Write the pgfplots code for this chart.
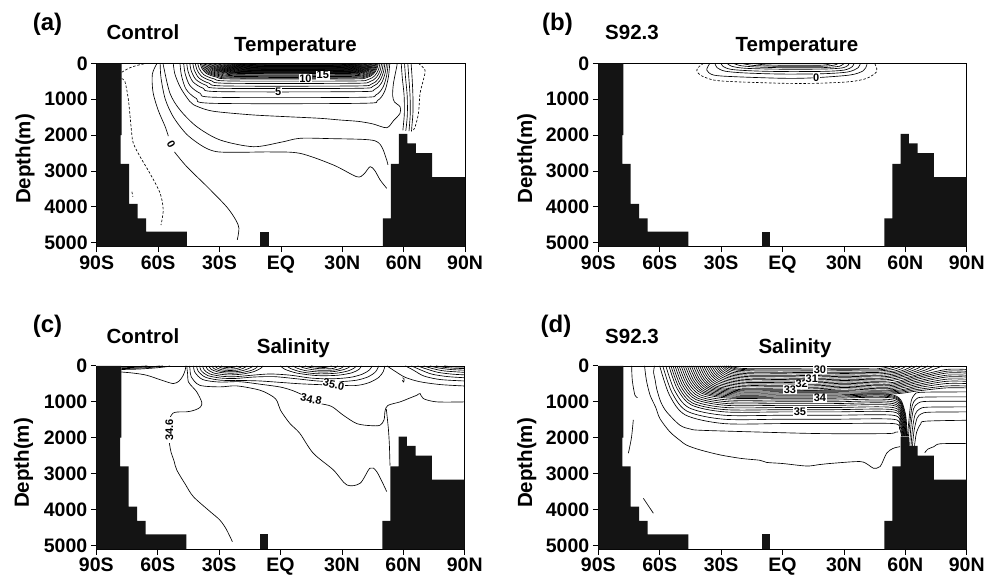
\documentclass[border=0pt]{standalone}
\usepackage{fontspec}
\setmainfont{Liberation Sans}
\usepackage{pgfplots}
\pgfplotsset{compat=1.18}
\newcommand{\tickfont}{\fontsize{19.5}{20}\selectfont\bfseries}
\newcommand{\titlefont}{\fontsize{20.5}{22}\selectfont\bfseries}
\newcommand{\letterfont}{\fontsize{24}{26}\selectfont\bfseries}
\newcommand{\labfont}{\fontsize{11}{12}\selectfont\bfseries}
\pgfplotsset{
  panel/.style={
    scale only axis, width=368.4pt, height=183.4pt, anchor=south west,
    xmin=-90, xmax=90, ymin=0, ymax=5111, y dir=reverse,
    xtick={-90,-60,-30,0,30,60,90}, xticklabels={90S,60S,30S,EQ,30N,60N,90N},
    ytick={0,1000,2000,3000,4000,5000}, yticklabels={0,1000,2000,3000,4000,5000},
    tick align=outside, tick pos=left, major tick length=5.5pt,
    every tick/.append style={black, line width=0.8pt},
    ticklabel style={font=\tickfont},
    axis line style={black, line width=0.7pt},
    /pgf/number format/assume math mode=true,
    clip=true,
  },
  cl/.style={black, line width=0.65pt, smooth, mark=none},
  cd/.style={black, line width=0.65pt, smooth, mark=none, dash pattern=on 2.5pt off 1.8pt},
  topo/.style={fill=black!92, draw=none, mark=none},
}
\tikzset{lab/.style={fill=white, inner sep=0.6pt, font=\labfont}}
\newcommand{\topo}{%
\addplot[topo] coordinates {(-90,5111) (-90,0) (-77.8,0) (-77.8,2000) (-78.3,2000) (-78.3,2800) (-74.2,2800) (-74.2,3920) (-70,3920) (-70,4320) (-65.9,4320) (-65.9,4693) (-46,4693) (-46,5111)};
\addplot[topo] coordinates {(-10.2,5111) (-10.2,4693) (-5.9,4693) (-5.9,5111)};
\addplot[topo] coordinates {(49.8,5111) (49.8,4320) (53.7,4320) (53.7,2800) (57.7,2800) (57.7,1970) (61.8,1970) (61.8,2230) (66,2230) (66,2500) (73.9,2500) (73.9,3170) (90,3170) (90,5111)};
}
\begin{document}
\begin{tikzpicture}
\path[use as bounding box] (0,0) rectangle (996pt,-577pt);
% ================= (a) Control Temperature
\begin{axis}[panel, at={(96.7pt,-246.7pt)}]
\addplot[cd] coordinates {(-77.8,250) (-74,130) (-70,55) (-65.5,0)};
\addplot[cd] coordinates {(-77.8,430) (-76.2,512) (-74.5,1023) (-72.9,1951) (-72.1,2230) (-68.8,2603) (-64,3066) (-59,3623) (-57.5,4089) (-58.6,4507)};
\addplot[cd] coordinates {(-72.8,3580) (-72.3,3720)};
\addplot[cd] coordinates {(67.2,0) (70.4,187) (69.6,465) (68,836) (67.2,1394) (65.6,1766) (64.7,1859)};
\addplot[cl] coordinates {(-60.5,0) (-62.8,300) (-62.5,800) (-60,1300) (-56.5,1770) (-55,2030)};
\addplot[cl] coordinates {(-52,2470) (-46,2880) (-36,3440) (-26.5,4000) (-22,4370) (-20.5,4600) (-21.3,4920)};
\addplot[cl] coordinates {(-59,0) (-58.6,400) (-56.5,1000) (-52.5,1500) (-46,1980) (-38,2320) (-31.4,2463) (-20,2480) (-5,2470) (9.4,2510) (25.7,2835) (37,3160) (40.5,3090) (43.6,2880) (46,3000) (48.5,3252) (51.7,3484)};
\addplot[cl] coordinates {(-57.5,0) (-57.3,95) (-54.2,836) (-49.3,1300) (-41.1,1766) (-29.7,2137) (-13.5,2324) (0,2200) (9.4,2090) (25,2100) (40,2120) (46,2160) (48.5,2260) (50,2416) (51.7,2695) (52.3,2830)};
\addplot[cl] coordinates {(-52.6,0) (-51.8,300) (-49.3,652) (-46,950) (-42.8,1150) (-36,1300) (-29.7,1360) (-13.5,1440) (2.8,1488) (19.1,1533) (28.8,1580) (38,1620) (45,1690) (51.7,1795) (55,1600) (58.2,1394) (58.2,1208) (55.5,1080) (54.6,900) (55,557) (56.6,93) (56.8,0)};
\addplot[cl] coordinates {(58.8,0) (59.3,400) (60.2,900) (60.3,1400) (59.8,1750) (59.6,1870)};
\addplot[cl] coordinates {(60.4,0) (60.9,400) (61.7,900) (61.8,1400) (61.3,1750) (61,1880)};
\addplot[cl] coordinates {(62,0) (62.5,400) (63.1,900) (63.2,1400) (62.8,1750) (62.6,1890)};
\addplot[cl] coordinates {(63.6,0) (64.1,400) (64.5,900) (64.5,1400) (64,1750) (63.8,1900)};
% band
\addplot[cl] coordinates {(-49.3,0) (-48.6,335) (-46.3,725) (-41.3,981) (-33.3,1115) (39.2,1115) (47.2,1037) (50.7,781) (52.5,390) (53.2,0)};
\addplot[cl] coordinates {(-47.5,0) (-46.8,284) (-44.5,616) (-39.5,834) (-31.5,948) (38.4,948) (46.4,882) (49.9,664) (51.7,332) (52.4,0)};
\addplot[cl] coordinates {(-46,0) (-45.3,237) (-43,514) (-38,695) (-30,790) (37.6,790) (45.6,735) (49.1,553) (50.9,277) (51.6,0)};
\addplot[cl] coordinates {(-44.5,0) (-43.8,209) (-41.5,453) (-36.5,613) (-28.5,697) (36.8,697) (44.8,648) (48.3,488) (50.1,244) (50.8,0)};
\addplot[cl] coordinates {(-43,0) (-42.3,190) (-40,411) (-35,556) (-27,632) (36,632) (44,588) (47.5,442) (49.3,221) (50,0)};
\addplot[cl] coordinates {(-41.8,0) (-41.1,167) (-38.8,362) (-33.8,490) (-25.8,557) (35.2,557) (43.2,518) (46.7,390) (48.5,195) (49.2,0)};
\addplot[cl] coordinates {(-40.6,0) (-39.9,148) (-37.6,320) (-32.6,434) (-24.6,493) (34.4,493) (42.4,458) (45.9,345) (47.7,173) (48.4,0)};
\addplot[cl] coordinates {(-39.4,0) (-38.7,131) (-36.4,284) (-31.4,385) (-23.4,437) (33.6,437) (41.6,406) (45.1,306) (46.9,153) (47.6,0)};
\addplot[cl] coordinates {(-38.8,0) (-38.1,124) (-35.8,268) (-30.8,363) (-22.8,413) (33.2,413) (41.2,384) (44.7,289) (46.5,145) (47.2,0)};
\addplot[cl] coordinates {(-38.2,0) (-37.5,117) (-35.2,254) (-30.2,343) (-22.2,390) (32.8,390) (40.8,363) (44.3,273) (46.1,137) (46.8,0)};
\addplot[cl] coordinates {(-37.6,0) (-36.9,110) (-34.6,239) (-29.6,323) (-21.6,367) (32.4,367) (40.4,341) (43.9,257) (45.7,128) (46.4,0)};
\addplot[cl] coordinates {(-37,0) (-36.3,104) (-34,224) (-29,304) (-21,345) (32,345) (40,321) (43.5,242) (45.3,121) (46,0)};
\addplot[cl] coordinates {(-36.4,0) (-35.7,96) (-33.4,208) (-28.4,282) (-20.4,320) (31.6,320) (39.6,298) (43.1,224) (44.9,112) (45.6,0)};
\addplot[cl] coordinates {(-35.8,0) (-35.1,89) (-32.8,194) (-27.8,262) (-19.8,298) (31.2,298) (39.2,277) (42.7,209) (44.5,104) (45.2,0)};
\addplot[cl] coordinates {(-35.2,0) (-34.5,85) (-32.2,185) (-27.2,250) (-19.2,284) (30.8,284) (38.8,264) (42.3,199) (44.1,99) (44.8,0)};
\addplot[cl] coordinates {(-34.6,0) (-33.9,81) (-31.6,176) (-26.6,238) (-18.6,270) (30.4,270) (38.4,251) (41.9,189) (43.7,95) (44.4,0)};
\addplot[cl] coordinates {(-34,0) (-33.3,78) (-31,169) (-26,229) (-18,260) (30,260) (38,242) (41.5,182) (43.3,91) (44,0)};
\addplot[cl] coordinates {(-33.4,0) (-32.7,75) (-30.4,163) (-25.4,220) (-17.4,250) (29.6,250) (37.6,233) (41.1,175) (42.9,88) (43.6,0)};
\addplot[cl] coordinates {(-32.8,0) (-32.1,72) (-29.8,156) (-24.8,211) (-16.8,240) (29.2,240) (37.2,223) (40.7,168) (42.5,84) (43.2,0)};
\addplot[cl] coordinates {(-32.2,0) (-31.5,69) (-29.2,150) (-24.2,202) (-16.2,230) (28.8,230) (36.8,214) (40.3,161) (42.1,81) (42.8,0)};
\addplot[cl] coordinates {(-31.6,0) (-30.9,66) (-28.6,143) (-23.6,194) (-15.6,220) (28.4,220) (36.4,205) (39.9,154) (41.7,77) (42.4,0)};
\addplot[cl] coordinates {(-31,0) (-30.3,63) (-28,137) (-23,185) (-15,210) (28,210) (36,195) (39.5,147) (41.3,74) (42,0)};
\addplot[cl] coordinates {(-30.4,0) (-29.7,60) (-27.4,130) (-22.4,176) (-14.4,200) (27.6,200) (35.6,186) (39.1,140) (40.9,70) (41.6,0)};
\addplot[cl] coordinates {(-29.8,0) (-29.1,57) (-26.8,124) (-21.8,167) (-13.8,190) (27.2,190) (35.2,177) (38.7,133) (40.5,67) (41.2,0)};
\addplot[cl] coordinates {(-29.2,0) (-28.5,54) (-26.2,117) (-21.2,158) (-13.2,180) (26.8,180) (34.8,167) (38.3,126) (40.1,63) (40.8,0)};
\addplot[cl] coordinates {(-28.6,0) (-27.9,51) (-25.6,111) (-20.6,150) (-12.6,170) (26.4,170) (34.4,158) (37.9,119) (39.7,60) (40.4,0)};
\addplot[cl] coordinates {(-28,0) (-27.3,48) (-25,104) (-20,141) (-12,160) (26,160) (34,149) (37.5,112) (39.3,56) (40,0)};
\addplot[cl] coordinates {(-27.4,0) (-26.7,45) (-24.4,98) (-19.4,132) (-11.4,150) (25.6,150) (33.6,140) (37.1,105) (38.9,53) (39.6,0)};
\addplot[cl] coordinates {(-26.8,0) (-26.1,42) (-23.8,91) (-18.8,123) (-10.8,140) (25.2,140) (33.2,130) (36.7,98) (38.5,49) (39.2,0)};
\addplot[cl] coordinates {(-26.2,0) (-25.5,39) (-23.2,85) (-18.2,114) (-10.2,130) (24.8,130) (32.8,121) (36.3,91) (38.1,46) (38.8,0)};
\addplot[cl] coordinates {(-25.6,0) (-24.9,36) (-22.6,78) (-17.6,106) (-9.6,120) (24.4,120) (32.4,112) (35.9,84) (37.7,42) (38.4,0)};
\addplot[cl] coordinates {(-25,0) (-24.3,33) (-22,72) (-17,97) (-9,110) (24,110) (32,102) (35.5,77) (37.3,39) (38,0)};
\addplot[cl] coordinates {(-24.4,0) (-23.7,30) (-21.4,65) (-16.4,88) (-8.4,100) (23.6,100) (31.6,93) (35.1,70) (36.9,35) (37.6,0)};
\addplot[cl] coordinates {(-23.8,0) (-23.1,27) (-20.8,59) (-15.8,79) (-7.8,90) (23.2,90) (31.2,84) (34.7,63) (36.5,32) (37.2,0)};
\addplot[cl] coordinates {(-23.2,0) (-22.5,24) (-20.2,52) (-15.2,70) (-7.2,80) (22.8,80) (30.8,74) (34.3,56) (36.1,28) (36.8,0)};
\addplot[cl] coordinates {(-22.6,0) (-21.9,21) (-19.6,46) (-14.6,62) (-6.6,70) (22.4,70) (30.4,65) (33.9,49) (35.7,25) (36.4,0)};
\addplot[cl] coordinates {(-22,0) (-21.3,18) (-19,39) (-14,53) (-6,60) (22,60) (30,56) (33.5,42) (35.3,21) (36,0)};
\addplot[cl] coordinates {(-21.4,0) (-20.7,15) (-18.4,33) (-13.4,44) (-5.4,50) (21.6,50) (29.6,47) (33.1,35) (34.9,18) (35.6,0)};
\addplot[cl] coordinates {(-20.8,0) (-20.1,12) (-17.8,26) (-12.8,35) (-4.8,40) (21.2,40) (29.2,37) (32.7,28) (34.5,14) (35.2,0)};
\addplot[cl] coordinates {(-20.2,0) (-19.5,9) (-17.2,20) (-12.2,26) (-4.2,30) (20.8,30) (28.8,28) (32.3,21) (34.1,11) (34.8,0)};
\topo
\node[lab, rotate=-60] at (axis cs:-53.6,2250) {0};
\node[lab] at (axis cs:-1.3,790) {5};
\node[lab] at (axis cs:12,437) {10};
\node[lab] at (axis cs:20.5,330) {15};
\end{axis}
% ================= (b) S92.3 Temperature
\begin{axis}[panel, at={(598.3pt,-246.7pt)}]
\addplot[cd] coordinates {(-38.5,0) (-40.5,80) (-41.9,187) (-40.3,326) (-33.8,465) (-24,512) (0.4,557) (16.7,557) (33,512) (41.2,418) (46,234) (45.5,60) (45,0)};
\addplot[cl] coordinates {(-35.5,0) (-37,187) (-33.8,326) (-24,372) (0.4,418) (15,405) (33,326) (39.5,206) (41.2,47) (41.3,0)};
\addplot[cl] coordinates {(-33,0) (-32,120) (-28,220) (-18,270) (0,300) (20,290) (32,240) (37,120) (38,0)};
\addplot[cl] coordinates {(-30,0) (-29,90) (-25,170) (-15,210) (0,230) (20,225) (30,190) (34,100) (35,0)};
\addplot[cl] coordinates {(-27,0) (-25,80) (-18,140) (0,165) (20,160) (29,130) (32,60) (32.5,0)};
\addplot[cl] coordinates {(-24,0) (-20,70) (-10,110) (5,125) (20,120) (28,80) (30,0)};
\addplot[cl] coordinates {(-20,0) (-14,60) (0,85) (20,80) (26,40) (27,0)};
\addplot[cl] coordinates {(-15,0) (-8,45) (5,55) (20,50) (24,0)};
\topo
\node[lab] at (axis cs:16.5,400) {0};
\end{axis}
% ================= (c) Control Salinity
\begin{axis}[panel, at={(96.3pt,-549.3pt)}]
\addplot[cl] coordinates {(-77.8,25) (-70,18) (-65,0)};
\addplot[cl] coordinates {(-77.8,50) (-70,40) (-62,20) (-59,0)};
\addplot[cl] coordinates {(-77.8,75) (-70,65) (-63,40) (-57.5,0)};
\addplot[cl] coordinates {(-77.8,100) (-70,90) (-62,60) (-56,25) (-54,0)};
\addplot[cl] coordinates {(-77.8,170) (-72,200) (-65.4,260) (-58,400) (-52.4,492) (-49.5,420) (-47.5,260) (-46.5,100) (-46.3,0)};
\addplot[cl] coordinates {(-45.8,0) (-45.4,220) (-45,446) (-42.8,600) (-40.9,725) (-38.5,1003) (-38.8,1120) (-40.2,1190) (-43,1250) (-46,1280) (-50.5,1285) (-52.6,1320) (-53.8,1420)};
\addplot[cl] coordinates {(-54.3,2150) (-53.5,2400) (-52,2650) (-50.7,2898) (-46.5,3300) (-42.6,3642) (-35,4030) (-29.7,4292) (-26.5,4550) (-23.5,4900)};
\addplot[cl] coordinates {(-44.4,0) (-44.2,100) (-43.6,306) (-39.5,539) (-29.7,585) (-21.4,557) (-10,678) (-3.5,864) (-1.5,1000) (0,1235) (4.5,1598) (9.4,1877) (16,2433) (25.8,2898) (32.4,3317) (38.9,3270) (43.7,2851) (47,2945) (51.9,3503)};
\addplot[cl] coordinates {(-42.5,0) (-41.8,180) (-38,380) (-30,450) (-20,440) (-10,510) (0,590) (6,690) (10.5,800)};
\addplot[cl] coordinates {(20,1060) (25,1130) (30.7,1375) (37.3,1608) (44,1665) (48.6,1654) (50.6,1500) (51.1,1250) (52.5,1100) (58.4,1003) (63,900) (66.6,818) (68.2,771) (69.8,911) (76.4,1003) (90,1003)};
\addplot[cl] coordinates {(51.7,1200) (52.7,1747) (53.2,2210) (53.5,2780)};
\addplot[cl] coordinates {(-41,0) (-40.2,150) (-36.5,320) (-29,400) (-20,405) (-10,420) (0,460) (10,500) (20.5,525)};
\addplot[cl] coordinates {(31.5,545) (36,550) (40,520) (44,450) (48,320) (50.2,160) (51,0)};
\addplot[cl] coordinates {(-39.5,0) (-38.8,130) (-35.5,270) (-29,340) (-22,350) (-13,310) (-3,300) (8,360) (18,420) (28,440) (37,400) (43,300) (46.5,160) (48,0)};
\addplot[cl] coordinates {(-38,0) (-37.3,110) (-34.5,225) (-28.5,290) (-22,300) (-14,260) (-5,225) (5,260) (15,340) (25,360) (34,320) (40,230) (43.5,110) (44.8,0)};
\addplot[cl] coordinates {(-36.5,0) (-35.6,100) (-32.5,200) (-26,250) (-19,230) (-13,160) (-9.5,60) (-8.5,0)};
\addplot[cl] coordinates {(-35,0) (-34,90) (-30.5,170) (-25,205) (-19,185) (-14,120) (-11.5,40) (-11,0)};
\addplot[cl] coordinates {(-33.5,0) (-32.5,75) (-29.5,140) (-25,165) (-20,150) (-16.5,95) (-14,30) (-13.5,0)};
\addplot[cl] coordinates {(-32,0) (-31,60) (-28.5,110) (-25,128) (-21,115) (-18.3,70) (-16.3,0)};
\addplot[cl] coordinates {(-30.5,0) (-29.5,45) (-27,80) (-24.5,90) (-21.5,75) (-19.5,40) (-18.7,0)};
\addplot[cl] coordinates {(-29,0) (-27.5,35) (-25,50) (-22.5,35) (-21.2,0)};
\addplot[cl] coordinates {(0,0) (2,90) (8,200) (18,270) (28,260) (35,190) (38.5,90) (39.5,0)};
\addplot[cl] coordinates {(3,0) (5,75) (10,165) (18,220) (27,205) (33,140) (36,60) (37,0)};
\addplot[cl] coordinates {(6,0) (8,60) (12,130) (19,170) (26,158) (31,100) (33.5,40) (34,0)};
\addplot[cl] coordinates {(9,0) (11,48) (15,100) (20,125) (26,115) (29.5,68) (31,0)};
\addplot[cl] coordinates {(12,0) (14,38) (18,72) (22,82) (26,68) (28,0)};
\addplot[cl] coordinates {(15,0) (18,33) (22,43) (25,0)};
\addplot[cl] coordinates {(52,0) (56,150) (61,320) (68,440) (78,520) (90,560)};
\addplot[cl] coordinates {(61,0) (65,120) (70,280) (78,380) (90,420)};
\addplot[cl] coordinates {(64,0) (68,100) (74,230) (82,300) (90,330)};
\addplot[cl] coordinates {(67,0) (71,80) (77,180) (84,230) (90,250)};
\addplot[cl] coordinates {(70,0) (74,70) (80,140) (90,180)};
\addplot[cl] coordinates {(73,0) (77,55) (83,100) (90,120)};
\addplot[cl] coordinates {(76,0) (80,40) (85,65) (90,75)};
\addplot[cl] coordinates {(80,0) (84,25) (90,35)};
\addplot[cl] coordinates {(59.6,330) (60.3,350) (60.4,420) (60,450) (59.6,400)};
\topo
\node[lab, rotate=90] at (axis cs:-54.3,1780) {34.6};
\node[lab, rotate=-12, inner sep=0.3pt] at (axis cs:15,930) {34.8};
\node[lab, rotate=-12, inner sep=0.3pt] at (axis cs:26,515) {35.0};
\end{axis}
% ================= (d) S92.3 Salinity
\begin{axis}[panel, at={(598.3pt,-549.3pt)}]
\addplot[cl] coordinates {(-73.7,0) (-73.4,400) (-72.1,817) (-70.8,880)};
\addplot[cl] coordinates {(-72.9,1505) (-73.8,2000) (-75.3,2433)};
\addplot[cl] coordinates {(-68,3688) (-63.1,4106)};
\addplot[cl] coordinates {(-67.4,0) (-66.5,400) (-64.7,817) (-62,1150) (-59.9,1468) (-55,1839) (-50,2080) (-46.8,2210) (-40.3,2340) (-30.5,2480) (-20,2580) (-11,2630) (-7.7,2690) (0,2720) (11.8,2790) (18,2750) (24.8,2712) (37.9,2666) (42,2760) (44.4,2851) (47.7,2805) (50.9,2433) (54,2300) (57.5,2250)};
\addplot[cl] coordinates {(-62.5,0) (-63,170) (-62.2,400) (-61.5,632) (-59.5,1000) (-56.6,1282) (-50.1,1653) (-45,1760) (-40.3,1793) (-14.3,1839) (18.3,1886) (50.9,1886) (55,1850) (56.5,1840)};
\addplot[cl] coordinates {(69.5,2420) (71,2320) (74,2250) (77,2170) (90,2165)};
% deep band lines diving into the plume
\addplot[cl] coordinates {(-60,0) (-55.3,804) (-47.5,1366) (-28.7,1607) (0,1607) (25,1607) (54,1607) (57.2,1748) (58.2,1960)};
\addplot[cl] coordinates {(-58.5,0) (-54,743) (-46.6,1263) (-28.7,1486) (0,1486) (25,1486) (54,1486) (57.4,1676) (58.4,1960)};
\addplot[cl] coordinates {(-57,0) (-52.7,688) (-45.6,1169) (-28.5,1375) (0,1375) (25,1375) (54,1375) (57.6,1609) (58.6,1960)};
\addplot[cl] coordinates {(-55.5,0) (-51.4,641) (-44.5,1090) (-28.1,1282) (0,1282) (25,1282) (54,1282) (57.8,1553) (58.8,1960)};
\addplot[cl] coordinates {(-54.5,0) (-50.5,610) (-43.9,1037) (-27.9,1220) (0,1220) (25,1220) (54,1220) (58,1516) (59,1960)};
\addplot[cl] coordinates {(-53.5,0) (-49.6,580) (-43.1,986) (-27.6,1160) (0,1160) (25,1160) (54,1160) (58.2,1480) (59.2,1960)};
\addplot[cl] coordinates {(-52.5,0) (-48.7,550) (-42.4,935) (-27.3,1100) (0,1100) (25,1100) (54,1100) (58.4,1444) (59.4,1960)};
\addplot[cl] coordinates {(-51.5,0) (-47.8,525) (-41.7,893) (-26.9,1050) (0,1050) (25,1050) (54,1050) (58.6,1414) (59.6,1960)};
\addplot[cl] coordinates {(-50.5,0) (-46.9,500) (-40.9,850) (-26.5,1000) (0,1000) (25,1000) (54,1000) (58.8,1384) (59.8,1960)};
\addplot[cl] coordinates {(-49.5,0) (-46,475) (-40.1,808) (-26.1,950) (0,950) (25,950) (54,950) (59,1354) (60,1960)};
\addplot[cl] coordinates {(-48.5,0) (-45.1,450) (-39.4,765) (-25.7,900) (0,900) (25,900) (54,900) (59.2,1324) (60.2,1960)};
\addplot[cl] coordinates {(-47.5,0) (-44.1,435) (-38.5,740) (-25.1,870) (0,870) (25,870) (54,870) (59.4,1306) (60.4,1960)};
\addplot[cl] coordinates {(-46.5,0) (-43.2,420) (-37.7,714) (-24.4,840) (0,840) (25,840) (54,840) (59.6,1288) (60.6,1960)};
\addplot[cl] coordinates {(-45.5,0) (-42.2,405) (-36.8,689) (-23.8,810) (0,810) (25,810) (54,810) (59.8,1270) (60.8,1960)};
% plume right wall
\addplot[cl] coordinates {(61,1965) (61.8,1500) (62.8,1000) (64.5,800) (68,735) (90,725)};
\addplot[cl] coordinates {(61.5,1965) (62.3,1550) (63.4,1100) (65.2,930) (69,870) (90,864)};
\addplot[cl] coordinates {(62.1,2225) (62.8,1650) (64,1200) (66,1050) (70,990) (90,984)};
\addplot[cl] coordinates {(62.8,2225) (63.5,1750) (64.8,1350) (67,1200) (71,1150) (90,1143)};
\addplot[cl] coordinates {(63.5,2225) (64.3,1800) (65.8,1450) (68,1330) (72,1290) (90,1282)};
\addplot[cl] coordinates {(64.5,2225) (65.5,1850) (67.5,1620) (70,1540) (90,1515)};
% middle band lines to the right edge
\addplot[cl] coordinates {(-44.5,0) (-41.3,390) (-35.9,663) (-23.1,780) (0,780) (25,780) (54,780) (66,697) (80,613) (90,613)};
\addplot[cl] coordinates {(-43.5,0) (-40.4,375) (-35.1,638) (-22.5,750) (0,750) (25,750) (54,750) (66,655) (80,560) (90,560)};
\addplot[cl] coordinates {(-42.5,0) (-39.4,360) (-34.3,612) (-21.9,720) (0,720) (25,720) (54,720) (66,606) (80,492) (90,492)};
\addplot[cl] coordinates {(-41.5,0) (-38.5,345) (-33.4,587) (-21.2,690) (0,690) (25,690) (54,690) (66,560) (80,430) (90,430)};
\addplot[cl] coordinates {(-40.5,0) (-37.5,330) (-32.5,561) (-20.6,660) (0,660) (15,680) (30,640) (45,673) (54,660) (66,516) (80,371) (90,371)};
\addplot[cl] coordinates {(-39.5,0) (-36.6,310) (-31.7,527) (-20.1,620) (0,620) (15,639) (30,601) (45,632) (54,620) (66,465) (80,310) (90,310)};
\addplot[cl] coordinates {(-38.5,0) (-35.7,290) (-30.9,493) (-19.5,580) (0,580) (15,597) (30,563) (45,592) (54,580) (66,420) (80,260) (90,260)};
\addplot[cl] coordinates {(-37.5,0) (-34.7,270) (-30.1,459) (-19,540) (0,540) (15,556) (30,524) (45,551) (54,540) (66,370) (80,200) (90,200)};
\addplot[cl] coordinates {(-36.5,0) (-33.8,250) (-29.3,425) (-18.5,500) (0,500) (15,515) (30,485) (45,510) (54,500) (66,325) (80,150) (90,150)};
\addplot[cl] coordinates {(-35.5,0) (-32.9,230) (-28.5,391) (-18,460) (0,460) (15,474) (30,446) (45,469) (54,460) (66,280) (80,100) (90,100)};
% shallow band lines rising to the surface
\addplot[cl] coordinates {(-34.5,0) (-32,210) (-27.7,357) (-17.5,420) (0,420) (15,433) (30,407) (45,428) (52,420) (60,330) (66,240) (72,130) (76,50) (78,0)};
\addplot[cl] coordinates {(-33.5,0) (-31,190) (-26.9,323) (-16.9,380) (0,380) (15,391) (30,369) (45,388) (52,378) (58,310) (64,220) (70,110) (74,0)};
\addplot[cl] coordinates {(-32.5,0) (-30.1,170) (-26.1,289) (-16.4,340) (0,340) (15,350) (30,330) (45,347) (51,335) (58,270) (63,190) (68,90) (71,0)};
\addplot[cl] coordinates {(-31.5,0) (-29.2,150) (-25.3,255) (-15.9,300) (0,300) (15,309) (30,291) (45,306) (51,295) (57,240) (62,160) (66,70) (68,0)};
\addplot[cl] coordinates {(-30.5,0) (-28.2,130) (-24.5,221) (-15.4,260) (0,260) (15,268) (30,252) (45,265) (51,250) (56,210) (61,130) (64,50) (65.5,0)};
\addplot[cl] coordinates {(-29.5,0) (-27.3,110) (-23.7,187) (-14.9,220) (0,220) (15,227) (30,213) (45,224) (50,212) (56,170) (60,100) (62.5,30) (63,0)};
\addplot[cl] coordinates {(-28.5,0) (-26.4,90) (-22.8,153) (-14.3,180) (0,180) (15,185) (30,175) (45,184) (50,170) (55,140) (58.5,70) (60.5,0)};
\addplot[cl] coordinates {(-27.5,0) (-25.4,70) (-22,119) (-13.8,140) (0,140) (15,144) (30,136) (45,143) (49,132) (54,100) (57,40) (58,0)};
\addplot[cl] coordinates {(-26.5,0) (-24.5,55) (-21.2,94) (-13.2,110) (0,110) (15,113) (30,107) (45,112) (48,104) (52,75) (55,25) (55.5,0)};
\addplot[cl] coordinates {(-25.5,0) (-23.5,40) (-20.3,68) (-12.5,80) (0,80) (15,82) (30,78) (45,82) (47,76) (50,50) (52.5,15) (53,0)};
\topo
\node[lab] at (axis cs:8.5,1282) {35};
\node[lab] at (axis cs:18.3,900) {34};
\node[lab] at (axis cs:3.6,663) {33};
\node[lab] at (axis cs:9.4,508) {32};
\node[lab] at (axis cs:14.3,350) {31};
\node[lab] at (axis cs:18.3,113) {30};
\end{axis}
% ================= texts
\node[font=\letterfont] at (47.5pt,-24pt) {(a)};
\node[font=\titlefont, anchor=base west] at (103pt,-40pt) {Control};
\node[font=\titlefont, anchor=base] at (295.5pt,-51.7pt) {Temperature};
\node[font=\titlefont, rotate=90] at (25pt,-159pt) {Depth(m)};
\node[font=\letterfont] at (557.5pt,-24pt) {(b)};
\node[font=\titlefont, anchor=base west] at (601.7pt,-40pt) {S92.3};
\node[font=\titlefont, anchor=base] at (797pt,-51.7pt) {Temperature};
\node[font=\titlefont, rotate=90] at (526.7pt,-158.3pt) {Depth(m)};
\node[font=\letterfont] at (47.5pt,-325.8pt) {(c)};
\node[font=\titlefont, anchor=base west] at (103pt,-343.3pt) {Control};
\node[font=\titlefont, anchor=base] at (293.3pt,-353.3pt) {Salinity};
\node[font=\titlefont, rotate=90] at (23.5pt,-463pt) {Depth(m)};
\node[font=\letterfont] at (556pt,-325.8pt) {(d)};
\node[font=\titlefont, anchor=base west] at (601.7pt,-343.3pt) {S92.3};
\node[font=\titlefont, anchor=base] at (795pt,-353.3pt) {Salinity};
\node[font=\titlefont, rotate=90] at (526.7pt,-463pt) {Depth(m)};
\end{tikzpicture}
\end{document}
